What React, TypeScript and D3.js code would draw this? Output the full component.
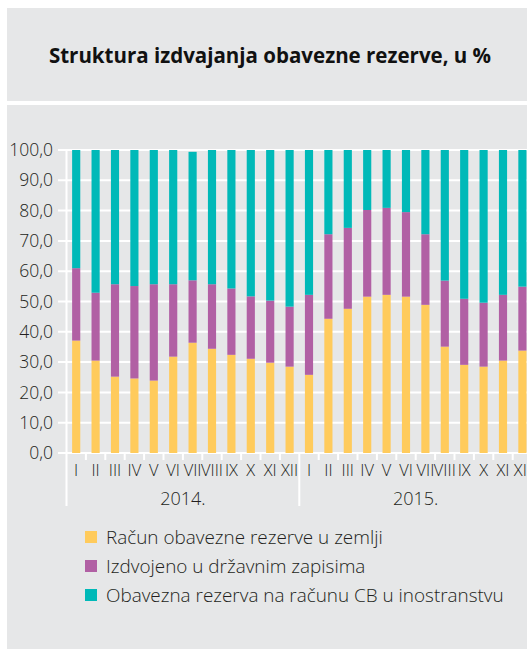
import React from "react";
import * as d3 from "d3";

// months, two years
const months = ["I", "II", "III", "IV", "V", "VI", "VII", "VIII", "IX", "X", "XI", "XII"];
const years = ["2014.", "2015."];

// share of each component, %
const domestic = [37.1, 30.5, 25.2, 24.6, 23.9, 31.8, 36.4, 34.4, 32.4, 31.1, 29.8, 28.5,
  25.8, 44.3, 47.6, 51.6, 52.2, 51.6, 48.9, 35.1, 29.1, 28.5, 30.5, 33.8];
const bills = [23.9, 22.4, 30.5, 30.5, 31.8, 23.9, 20.6, 21.3, 21.9, 20.6, 20.5, 19.8,
  26.4, 27.9, 26.7, 28.6, 28.7, 27.9, 23.3, 21.8, 21.8, 21.1, 21.7, 21.1];
const abroad = [39.0, 47.1, 44.3, 44.9, 44.3, 44.3, 42.4, 44.3, 45.7, 48.3, 49.7, 51.7,
  47.8, 27.8, 25.7, 19.8, 19.1, 20.5, 27.8, 43.1, 49.1, 50.4, 47.8, 45.1];

const seriesNames = [
  "Račun obavezne rezerve u zemlji",
  "Izdvojeno u državnim zapisima",
  "Obavezna rezerva na računu CB u inostranstvu",
];
const colors = ["#ffcb5c", "#b160a4", "#00b9b8"];
const yTicks = [0, 10, 20, 30, 40, 50, 60, 70, 80, 90, 100];

const W = 527;
const H = 649;
const font = "'Open Sans', 'Noto Sans', sans-serif";

export default function App() {
  const cats = years.flatMap((y) => months.map((m) => `${m}|${y}`));
  const rows = cats.map((c, i) => ({ c, a: domestic[i], b: bills[i], d: abroad[i] }));
  const stacked = d3.stack<any>().keys(["a", "b", "d"])(rows);

  const x = d3.scaleBand().domain(cats).range([66.5, 66.5 + 24 * 19.4]).paddingInner(0.58).paddingOuter(0.29);
  const y = d3.scaleLinear().domain([0, 100]).range([453, 150]);
  const step = x.step();
  const x0 = 66.5;

  return (
    <svg width={W} height={H} style={{ position: "absolute", left: 0, top: 0 }} fontFamily={font}>
      <rect x={0} y={0} width={W} height={H} fill="#fff" />
      <rect x={7} y={8} width={W - 7} height={93} fill="#e6e7e8" />
      <rect x={7} y={105} width={W - 7} height={544} fill="#e6e7e8" />
      <text x={270} y={63} textAnchor="middle" fontSize={20.5} fontWeight={700} fill="#111">
        Struktura izdvajanja obavezne rezerve, u %
      </text>

      {/* grid */}
      {yTicks.map((t) => (
        <g key={t}>
          <line x1={58} x2={W} y1={y(t)} y2={y(t)} stroke="#fff" strokeWidth={2} />
          <text x={53} y={y(t)} dy="0.35em" textAnchor="end" fontSize={17.5} fontWeight={300} fill="#231f20">
            {t.toFixed(1).replace(".", ",")}
          </text>
        </g>
      ))}
      <line x1={x0} x2={x0} y1={y(100)} y2={506} stroke="#fff" strokeWidth={2} />

      {/* bars */}
      {stacked.map((s, k) => (
        <g key={k} fill={colors[k]}>
          {s.map((d, i) => (
            <rect key={i} x={x(cats[i])} width={x.bandwidth()} y={y(d[1])} height={y(d[0]) - y(d[1])} />
          ))}
        </g>
      ))}

      {/* category ticks and labels */}
      {cats.map((c, i) => (
        <g key={c}>
          {i > 0 && i !== 12 && (
            <line x1={x0 + i * step} x2={x0 + i * step} y1={453} y2={460} stroke="#fff" strokeWidth={2} />
          )}
          <text x={x(c)! + x.bandwidth() / 2} y={476} textAnchor="middle" fontSize={16.5} fontWeight={300} fill="#231f20">
            {months[i % 12]}
          </text>
        </g>
      ))}
      <line x1={x0 + 12 * step} x2={x0 + 12 * step} y1={453} y2={506} stroke="#fff" strokeWidth={2} />
      {years.map((yr, j) => (
        <text key={yr} x={x0 + (j * 12 + 6) * step} y={505} textAnchor="middle" fontSize={18} fontWeight={300} fill="#231f20">
          {yr}
        </text>
      ))}

      {/* legend */}
      {seriesNames.map((n, k) => (
        <g key={n} transform={`translate(85, ${537 + k * 29})`}>
          <rect x={0} y={-6} width={12} height={12} fill={colors[k]} />
          <text x={21} y={0} dy="0.35em" fontSize={18.9} fontWeight={300} fill="#231f20">
            {n}
          </text>
        </g>
      ))}
    </svg>
  );
}
